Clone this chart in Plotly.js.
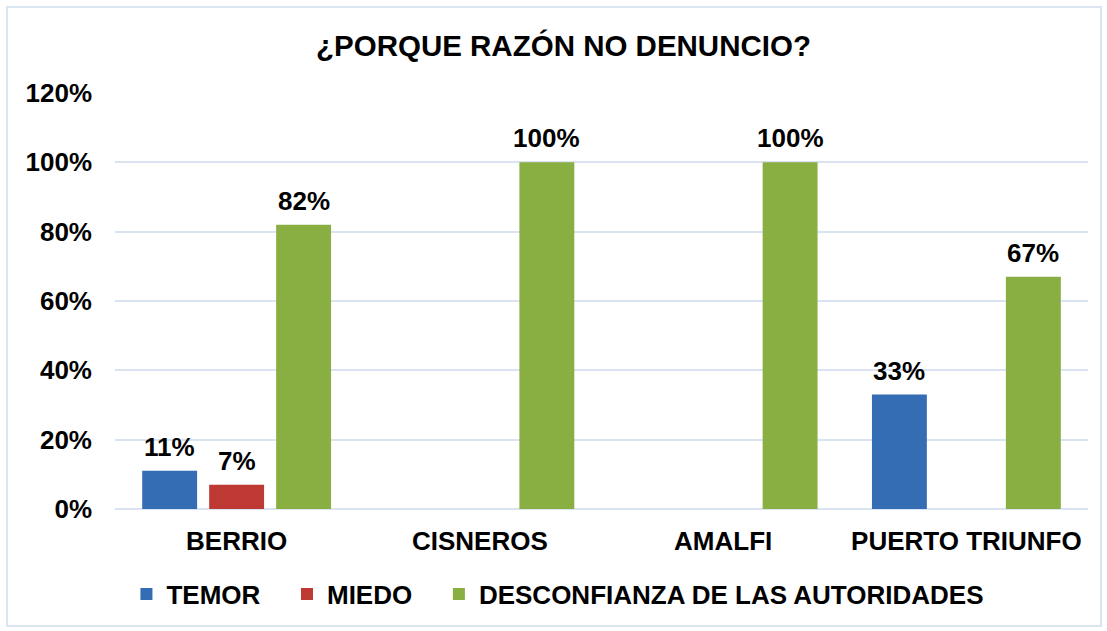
<!DOCTYPE html>
<html>
<head>
<meta charset="utf-8">
<script src="https://cdn.plot.ly/plotly-3.0.1.min.js"></script>
<style>
  html, body { margin: 0; padding: 0; background: #ffffff; }
  #chart { width: 1107px; height: 631px; }
  #frame { position: absolute; left: 6px; top: 6px; width: 1092px; height: 617px;
           border: 2px solid #dbe5f1; pointer-events: none; }
</style>
</head>
<body>
<div id="chart"></div>
<div id="frame"></div>
<script>
const categories = ["BERRIO", "CISNEROS", "AMALFI", "PUERTO TRIUNFO"];
const seriesNames = ["TEMOR", "MIEDO", "DESCONFIANZA DE LAS AUTORIDADES"];
const temor = [0.11, 0, 0, 0.33];
const miedo = [0.07, 0, 0, 0];
const desconfianza = [0.82, 1.00, 1.00, 0.67];
const yTickVals = [0, 0.2, 0.4, 0.6, 0.8, 1.0, 1.2];
const yTickText = ["0%", "20%", "40%", "60%", "80%", "100%", "120%"];

const colors = ["#346db4", "#bf3934", "#89ae42"];
const FONT = "Liberation Sans, Arial, sans-serif";
const NB = "\u00a0";
const legendPad = [NB + NB + NB, NB + NB + NB, ""];

const W = 1107, H = 631;
const margin = { l: 115, r: 19, t: 93, b: 122 };
const bargap = 0.174;
const bargroupgap = 0.18;

function pct(v) { return Math.round(v * 100) + "%"; }

const allSeries = [temor, miedo, desconfianza];
const traces = allSeries.map((vals, i) => ({
  type: "bar",
  name: seriesNames[i] + legendPad[i],
  x: categories,
  y: vals,
  marker: { color: colors[i], line: { width: 0 } },
  hovertemplate: "%{x}: %{y:.0%}<extra>" + seriesNames[i] + "</extra>"
}));

// value labels as annotations anchored to each bar's data value
const plotW = W - margin.l - margin.r;
const slotPx = plotW / categories.length * (1 - bargap) / allSeries.length;
const annotations = [];
allSeries.forEach((vals, i) => {
  vals.forEach((v, j) => {
    if (v > 0) {
      annotations.push({
        x: categories[j], y: v, xref: "x", yref: "y",
        text: "<b>" + pct(v) + "</b>",
        showarrow: false,
        xanchor: "center", yanchor: "bottom",
        xshift: (i - (allSeries.length - 1) / 2) * slotPx,
        yshift: 7,
        font: { family: FONT, size: 26, color: "#000000" }
      });
    }
  });
});

const layout = {
  width: W,
  height: H,
  paper_bgcolor: "#ffffff",
  plot_bgcolor: "#ffffff",
  margin: margin,
  font: { family: FONT, size: 26, color: "#000000", weight: "bold" },
  title: {
    text: "<b>¿PORQUE RAZÓN NO DENUNCIO?</b>",
    font: { family: FONT, size: 29.5, color: "#000000" },
    x: 0.509, xref: "container", xanchor: "center",
    y: 0.927, yref: "container", yanchor: "middle"
  },
  barmode: "group",
  bargap: bargap,
  bargroupgap: bargroupgap,
  annotations: annotations,
  xaxis: {
    type: "category",
    showgrid: false,
    showline: false,
    ticks: "",
    ticklabelstandoff: 14,
    tickfont: { family: FONT, size: 26, color: "#000000", weight: "bold" }
  },
  yaxis: {
    range: [0, 1.2],
    autorange: false,
    tickvals: yTickVals,
    ticktext: yTickText,
    showgrid: true,
    gridcolor: "#d9e3f1",
    gridwidth: 2,
    zeroline: true,
    zerolinecolor: "#d9e3f1",
    zerolinewidth: 2,
    showline: false,
    ticks: "",
    ticklabelstandoff: 22,
    tickfont: { family: FONT, size: 26, color: "#000000", weight: "bold" }
  },
  showlegend: true,
  legend: {
    orientation: "h",
    xref: "container",
    x: 0.504,
    xanchor: "center",
    yref: "container",
    y: 1 - 594 / 631,
    yanchor: "middle",
    font: { family: FONT, size: 26, color: "#000000", weight: "bold" },
    traceorder: "normal"
  }
};

Plotly.newPlot("chart", traces, layout, { displayModeBar: false, responsive: false });
</script>
</body>
</html>
